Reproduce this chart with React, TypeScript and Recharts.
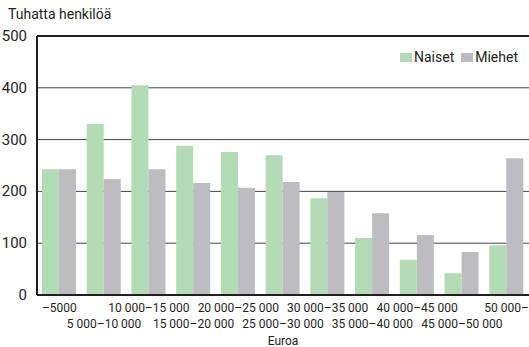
import React from 'react';
import { BarChart, Bar, XAxis, YAxis, CartesianGrid, ReferenceLine } from 'recharts';

const categories = [
  '–5000',
  '5 000–10 000',
  '10 000–15 000',
  '15 000–20 000',
  '20 000–25 000',
  '25 000–30 000',
  '30 000–35 000',
  '35 000–40 000',
  '40 000–45 000',
  '45 000–50 000',
  '50 000–',
];
const naiset = [243, 330, 405, 288, 276, 270, 187, 110, 68, 42, 96];
const miehet = [243, 224, 243, 216, 207, 218, 199, 158, 116, 83, 264];
const yTicks = [0, 100, 200, 300, 400, 500];

const series = [
  { key: 'Naiset', color: '#b2dbb6' },
  { key: 'Miehet', color: '#bcbcc1' },
];

const data = categories.map((c, i) => ({ name: c, Naiset: naiset[i], Miehet: miehet[i] }));

const FONT = 'Roboto, "Open Sans", sans-serif';
const INK = '#231f20';

const XTick = (props: any) => {
  const { x, y, payload, index } = props;
  const dy = index % 2 === 0 ? 17 : 33;
  return (
    <text x={x} y={y + dy} textAnchor="middle" fontSize={12} fontFamily={FONT} fill={INK}>
      {payload.value}
    </text>
  );
};

const YTick = (props: any) => {
  const { x, y, payload } = props;
  return (
    <text x={x - 2} y={y + 5} textAnchor="end" fontSize={15} fontFamily={FONT} fill={INK}>
      {payload.value}
    </text>
  );
};

export default function App() {
  return (
    <div style={{ position: 'absolute', left: 0, top: 0, width: 529, height: 347, background: '#fff', fontFamily: FONT }}>
      <div style={{ position: 'absolute', left: 8, top: 6, fontSize: 14, color: INK, lineHeight: '16px' }}>
        Tuhatta henkilöä
      </div>
      <BarChart
        width={529}
        height={347}
        data={data}
        margin={{ top: 36, right: 0, left: 0, bottom: 0 }}
        barGap={0}
        barCategoryGap={5}
      >
        <CartesianGrid vertical={false} stroke="#444" strokeWidth={1} />
        <YAxis
          width={37}
          domain={[0, 500]}
          ticks={yTicks}
          interval={0}
          tickLine={false}
          axisLine={{ stroke: INK, strokeWidth: 2 }}
          tick={<YTick />}
        />
        <XAxis
          dataKey="name"
          height={52}
          interval={0}
          tickLine={false}
          tickSize={0}
          tickMargin={0}
          axisLine={{ stroke: INK, strokeWidth: 2 }}
          tick={<XTick />}
          label={{ value: 'Euroa', position: 'insideBottom', offset: 2, fontSize: 12, fontFamily: FONT, fill: INK }}
        />
        <ReferenceLine y={500} stroke={INK} strokeWidth={2} />
        {series.map((s) => (
          <Bar key={s.key} dataKey={s.key} fill={s.color} isAnimationActive={false} />
        ))}
      </BarChart>
      <div
        style={{
          position: 'absolute',
          right: 11,
          top: 49,
          display: 'flex',
          fontSize: 14,
          color: INK,
          lineHeight: '16px',
        }}
      >
        {series.map((s) => (
          <div key={s.key} style={{ display: 'flex', alignItems: 'center', marginLeft: 7 }}>
            <span style={{ width: 12, height: 9, background: s.color, marginRight: 2, display: 'inline-block' }} />
            <span>{s.key}</span>
          </div>
        ))}
      </div>
    </div>
  );
}
